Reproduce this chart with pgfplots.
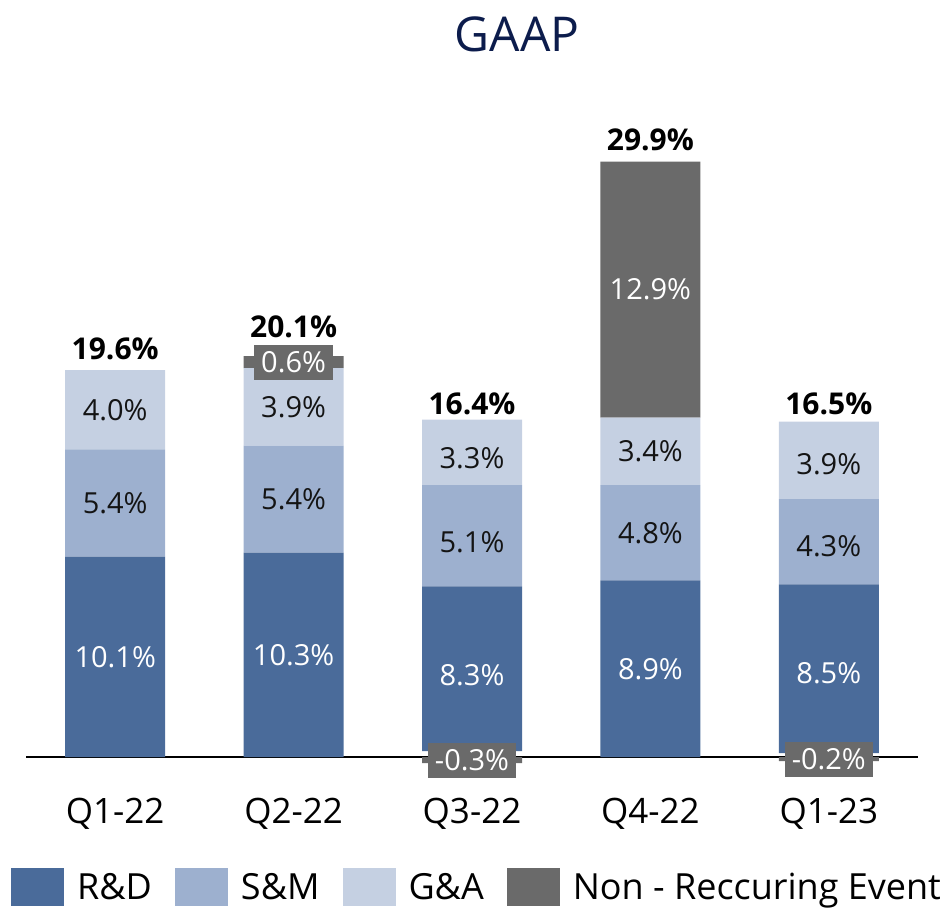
\documentclass[border=0pt]{standalone}
\usepackage{pgfplots}
\pgfplotsset{compat=1.18}
\usepackage{pgfplotstable}
\usepackage{fontspec}
\setmainfont{Open Sans}
\definecolor{rd}{RGB}{74,107,154}
\definecolor{sm}{RGB}{157,176,207}
\definecolor{ga}{RGB}{197,208,226}
\definecolor{nr}{RGB}{106,106,106}
\definecolor{navy}{RGB}{12,28,76}
\definecolor{lbl}{RGB}{20,20,20}

\pgfplotstableread{
x neg comp rd sm ga nrpos
0 0 0 10.1 5.4 4.0 0
1 0 0 10.3 5.4 3.9 0.6
2 -0.3 0.3 8.3 5.1 3.3 0
3 0 0 8.9 4.8 3.4 12.9
4 -0.2 0.2 8.5 4.3 3.9 0
}\datatable

\tikzset{
  wl/.style={text=white, font=\fontsize{29}{34}\selectfont},
  dl/.style={text=lbl, font=\fontsize{29}{34}\selectfont},
  bl/.style={fill=nr, text=white, inner xsep=7pt, inner ysep=0pt, minimum height=35pt, font=\fontsize{29}{34}\selectfont},
  tl/.style={anchor=base, font=\bfseries\fontsize{30}{34}\selectfont},
}

\begin{document}
\begin{tikzpicture}
\path[use as bounding box] (0,0) rectangle (949pt,912pt);
\node[text=navy, font=\fontsize{48}{56}\selectfont, anchor=center] at (517pt,878pt) {GAAP};
\begin{axis}[
  at={(26pt,135pt)}, anchor=south west,
  scale only axis, width=892pt, height=615.35pt,
  xmin=-0.5, xmax=4.5, ymin=-1, ymax=30,
  ybar stacked, bar width=100pt,
  clip=false,
  axis line style={draw=none},
  major tick length=0pt,
  ytick=\empty,
  xtick={0,1,2,3,4},
  xticklabels={Q1-22,Q2-22,Q3-22,Q4-22,Q1-23},
  xticklabel style={anchor=base, yshift=-46pt, font=\fontsize{35}{40}\selectfont},
  extra y ticks={0},
  extra y tick labels={},
  extra y tick style={grid=major, major grid style={black, line width=2pt}},
  legend style={at={(axis description cs:-0.0168,-0.1788)}, anchor=west, draw=none, fill=none,
    inner sep=0pt, font=\fontsize{36}{40}\selectfont,
    /tikz/every odd column/.append style={column sep=11pt},
    /tikz/every even column/.append style={column sep=21pt}},
  legend columns=-1,
  legend image code/.code={\draw[#1, draw=none] (0pt,-19pt) rectangle (53pt,19pt);},
]
\addplot[fill=nr, draw=none, forget plot] table[x=x, y=neg] {\datatable};
\addplot[fill=white, fill opacity=0, draw=none, forget plot] table[x=x, y=comp] {\datatable};
\addplot[fill=rd, draw=none] table[x=x, y=rd] {\datatable};
\addlegendentry{R\&D}
\addplot[fill=sm, draw=none] table[x=x, y=sm] {\datatable};
\addlegendentry{S\&M}
\addplot[fill=ga, draw=none] table[x=x, y=ga] {\datatable};
\addlegendentry{G\&A}
\addplot[fill=nr, draw=none] table[x=x, y=nrpos] {\datatable};
\addlegendentry{Non - Reccuring Event}

\coordinate (a1) at (axis cs:0,5.05);
\coordinate (a2) at (axis cs:0,12.8);
\coordinate (a3) at (axis cs:0,17.5);
\coordinate (b1) at (axis cs:1,5.15);
\coordinate (b2) at (axis cs:1,13.0);
\coordinate (b3) at (axis cs:1,17.65);
\coordinate (b4) at (axis cs:1,19.9);
\coordinate (c0) at (axis cs:2,-0.15);
\coordinate (c1) at (axis cs:2,4.15);
\coordinate (c2) at (axis cs:2,10.85);
\coordinate (c3) at (axis cs:2,15.05);
\coordinate (d1) at (axis cs:3,4.45);
\coordinate (d2) at (axis cs:3,11.3);
\coordinate (d3) at (axis cs:3,15.4);
\coordinate (d4) at (axis cs:3,23.55);
\coordinate (e0) at (axis cs:4,-0.1);
\coordinate (e1) at (axis cs:4,4.25);
\coordinate (e2) at (axis cs:4,10.65);
\coordinate (e3) at (axis cs:4,14.75);
\coordinate (ta) at (axis cs:0,20.05);
\coordinate (tb) at (axis cs:1,21.15);
\coordinate (tc) at (axis cs:2,17.25);
\coordinate (td) at (axis cs:3,30.55);
\coordinate (te) at (axis cs:4,17.25);
\end{axis}
\node[wl] at (a1) {10.1\%};
\node[dl] at (a2) {5.4\%};
\node[dl] at (a3) {4.0\%};
\node[wl] at (b1) {10.3\%};
\node[dl] at (b2) {5.4\%};
\node[dl] at (b3) {3.9\%};
\node[bl] at (b4) {0.6\%};
\node[bl] at (c0) {-0.3\%};
\node[wl] at (c1) {8.3\%};
\node[dl] at (c2) {5.1\%};
\node[dl] at (c3) {3.3\%};
\node[wl] at (d1) {8.9\%};
\node[dl] at (d2) {4.8\%};
\node[dl] at (d3) {3.4\%};
\node[wl] at (d4) {12.9\%};
\node[bl] at (e0) {-0.2\%};
\node[wl] at (e1) {8.5\%};
\node[dl] at (e2) {4.3\%};
\node[dl] at (e3) {3.9\%};
\node[tl] at (ta) {19.6\%};
\node[tl] at (tb) {20.1\%};
\node[tl] at (tc) {16.4\%};
\node[tl] at (td) {29.9\%};
\node[tl] at (te) {16.5\%};
\end{tikzpicture}
\end{document}
